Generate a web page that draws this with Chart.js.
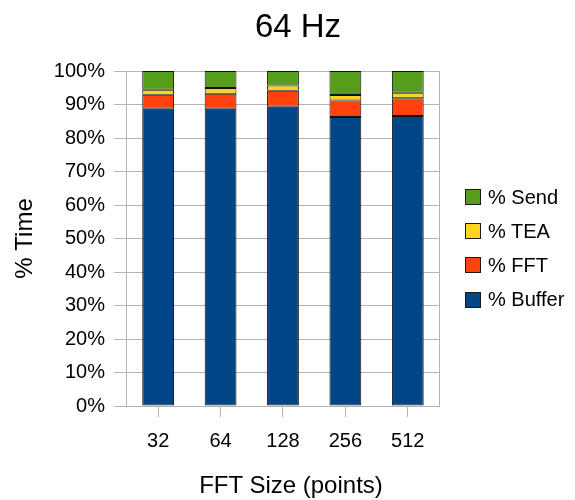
<!DOCTYPE html>
<html>
<head>
<meta charset="utf-8">
<title>64 Hz</title>
<script src="https://cdn.jsdelivr.net/npm/chart.js@4/dist/chart.umd.min.js"></script>
<style>
  html, body { margin: 0; padding: 0; background: #ffffff; }
  #wrap { width: 575px; height: 500px; position: relative; }
  #title {
    position: absolute; left: 0; top: 9px; width: 596px; margin: 0;
    text-align: center; font-family: 'Liberation Sans', Arial, sans-serif;
    font-size: 33px; line-height: 33px; font-weight: normal; color: #000;
  }
  #xtitle {
    position: absolute; left: 0; top: 471px; width: 582px; margin: 0;
    text-align: center; font-family: 'Liberation Sans', Arial, sans-serif;
    font-size: 24px; line-height: 28px; color: #000;
  }
  #legend {
    position: absolute; left: 465px; top: 180px;
    margin: 0; padding: 0; list-style: none;
    font-family: 'Liberation Sans', Arial, sans-serif; font-size: 20px; color: #000;
  }
  #legend li { display: flex; align-items: center; height: 34.2px; white-space: nowrap; }
  #legend .box { width: 14px; height: 14px; border: 1px solid #1a1a1a; margin-right: 7px; flex: none; }
</style>
</head>
<body>
<div id="wrap">
  <canvas id="chart" width="575" height="500"></canvas>
  <h1 id="title">64 Hz</h1>
  <div id="xtitle">FFT Size (points)</div>
  <ul id="legend"></ul>
</div>
<script>
// FFT sizes (points) and share of processing time per stage, in percent
const fftSizes = ['32', '64', '128', '256', '512'];
const bufferPct = [88.7, 88.7, 89.3, 86.3, 86.6];
const fftPct    = [4.2, 4.5, 4.8, 4.9, 5.3];
const teaPct    = [1.5, 1.7, 1.6, 1.6, 1.6];
const sendPct   = [5.6, 5.1, 4.3, 7.2, 6.5];
const yTicks    = [0, 10, 20, 30, 40, 50, 60, 70, 80, 90, 100];

const FONT = "'Liberation Sans', Arial, sans-serif";
const GRID = '#b3b3b3';

// closes the plot frame on the right-hand side
const rightFrame = {
  id: 'rightFrame',
  afterDraw(chart) {
    const { ctx, chartArea } = chart;
    ctx.save();
    ctx.strokeStyle = GRID;
    ctx.lineWidth = 1;
    ctx.beginPath();
    const x = Math.round(chartArea.right) + 0.5;
    ctx.moveTo(x, chartArea.top);
    ctx.lineTo(x, chartArea.bottom);
    ctx.stroke();
    ctx.restore();
  }
};

function series(label, data, color) {
  return {
    label, data,
    backgroundColor: color,
    borderColor: '#111111',
    borderWidth: 1,
    borderSkipped: false,
    barPercentage: 0.51,
    categoryPercentage: 1.0
  };
}

const chart = new Chart(document.getElementById('chart'), {
  type: 'bar',
  data: {
    labels: fftSizes,
    datasets: [
      series('% Buffer', bufferPct, '#004586'),
      series('% FFT', fftPct, '#ff420e'),
      series('% TEA', teaPct, '#ffd320'),
      series('% Send', sendPct, '#579d1c')
    ]
  },
  options: {
    responsive: false,
    animation: false,
    layout: { padding: { top: 71, right: 136, bottom: 35, left: 11 } },
    plugins: {
      title: { display: false },
      legend: { display: false },
      tooltip: { enabled: false }
    },
    scales: {
      x: {
        stacked: true,
        grid: { display: true, offset: false, drawOnChartArea: false, drawTicks: true, tickLength: 11, color: GRID },
        border: { display: true, color: GRID },
        ticks: { color: '#000', font: { family: FONT, size: 20 }, padding: 12 }
      },
      y: {
        stacked: true,
        min: 0,
        max: 100,
        afterBuildTicks(scale) { scale.ticks = yTicks.map(v => ({ value: v })); },
        grid: { color: GRID, tickLength: 13 },
        border: { display: true, color: GRID },
        ticks: { color: '#000', font: { family: FONT, size: 20 }, padding: 9, callback: v => v + '%' },
        title: { display: true, text: '% Time', color: '#000', font: { family: FONT, size: 24 }, padding: { top: 0, bottom: 5 } }
      }
    }
  },
  plugins: [rightFrame]
});

// legend, listed top-down in reverse stacking order
const legendEl = document.getElementById('legend');
chart.data.datasets.slice().reverse().forEach(ds => {
  const li = document.createElement('li');
  const box = document.createElement('span');
  box.className = 'box';
  box.style.background = ds.backgroundColor;
  li.appendChild(box);
  li.appendChild(document.createTextNode(ds.label));
  legendEl.appendChild(li);
});
</script>
</body>
</html>
